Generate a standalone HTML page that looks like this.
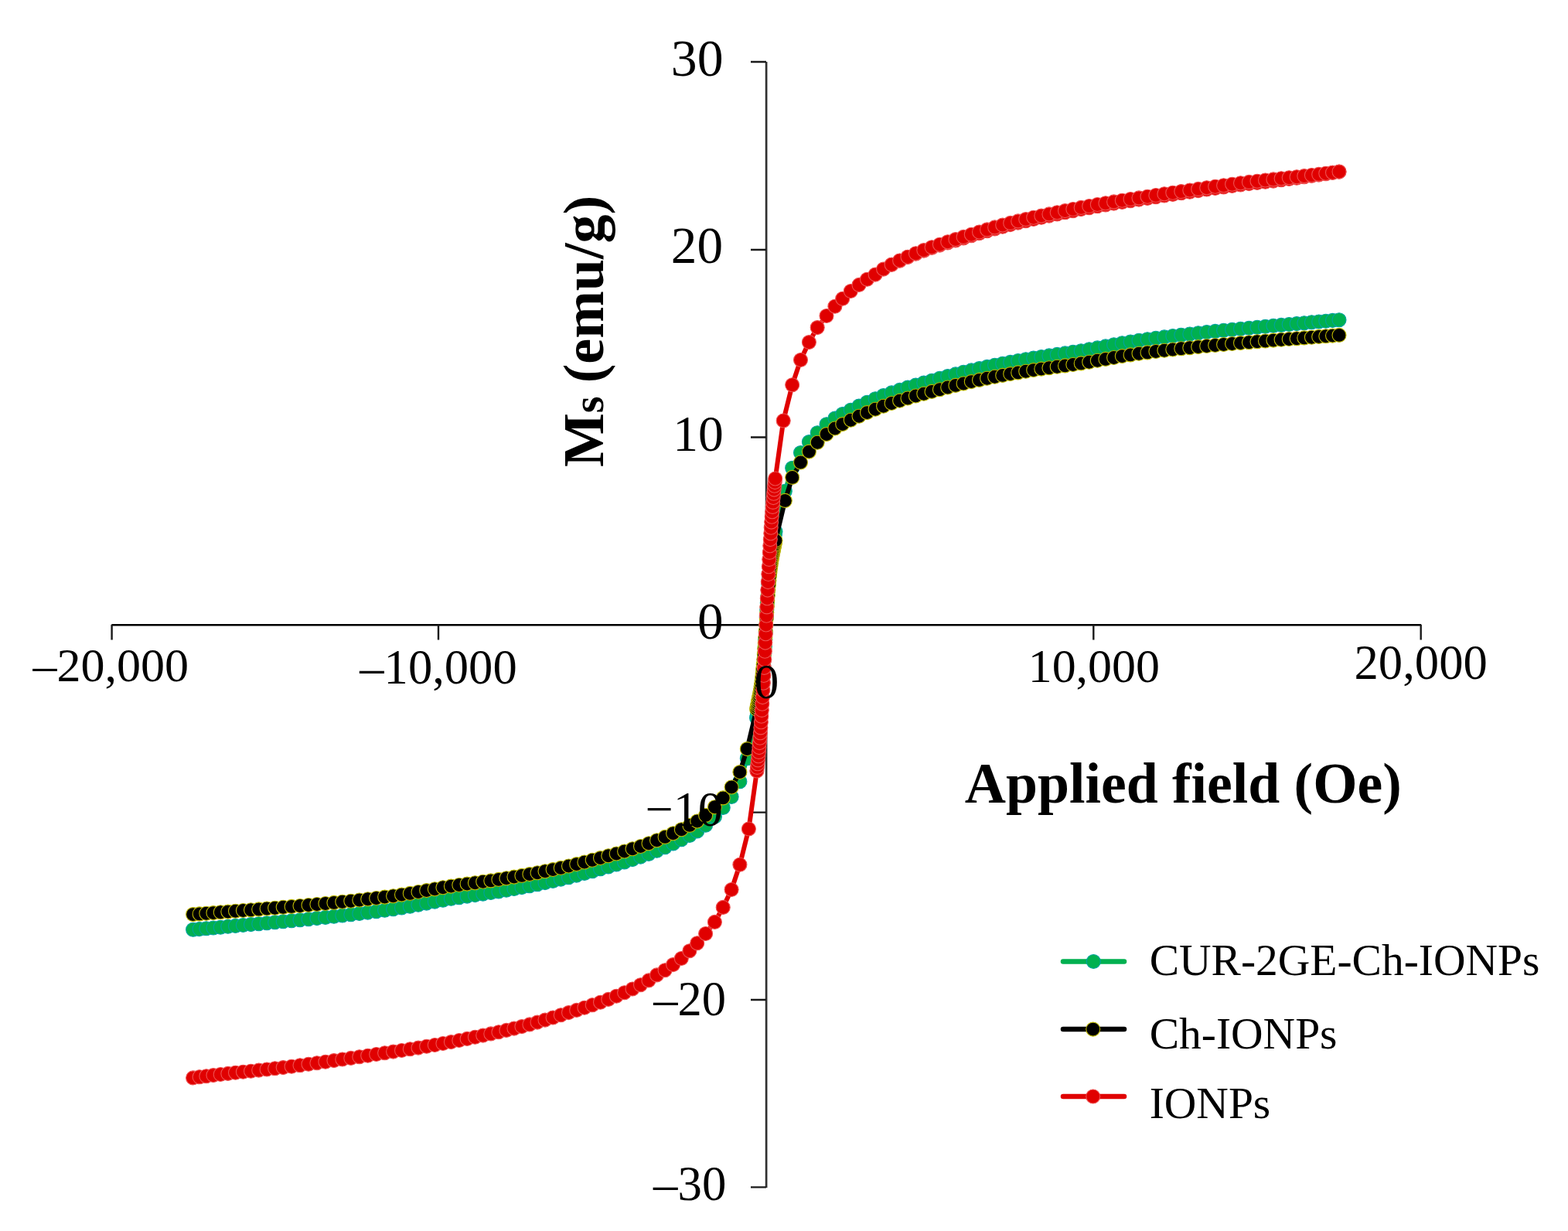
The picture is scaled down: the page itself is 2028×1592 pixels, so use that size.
<!DOCTYPE html>
<html><head><meta charset="utf-8"><title>Magnetization curves</title>
<style>html,body{margin:0;padding:0;background:#fff;overflow:hidden}svg{display:block}text{font-family:"Liberation Serif","Times New Roman",serif;fill:#000}</style>
</head><body>
<svg width="2028" height="1592" viewBox="0 0 2028 1592">
<rect width="2028" height="1592" fill="#fff"/>
<g fill="none" stroke-linecap="butt">
<path d="M144.3 808.2 H1838.2" stroke="#000" stroke-width="2.6"/>
<path d="M144.6 808 V827.5 M567 808 V827.5 M1414.3 808 V827.5 M1837.7 808 V827.5" stroke="#1a1a1a" stroke-width="2.4"/>
<path d="M991.1 80 V1536" stroke="#303030" stroke-width="2.7"/>
<path d="M971 80 H991 M971 323 H991 M971 565.5 H991 M971 1050.7 H991 M971 1293 H991 M971 1535.3 H991" stroke="#1a1a1a" stroke-width="2.3"/>
</g>
<text transform="translate(780,604) rotate(-90)" font-size="74" font-weight="bold">M<tspan font-size="56">s</tspan><tspan dx="-1.5"> (emu/g)</tspan></text>
<text x="1247.8" y="1037.9" font-size="73.7" font-weight="bold">Applied field (Oe)</text>
<path d="M249.6 1202.3 L258.1 1201.6 L266.8 1200.8 L275.9 1200.0 L285.2 1199.2 L294.8 1198.3 L304.5 1197.4 L314.4 1196.5 L324.5 1195.6 L334.7 1194.7 L345.1 1193.8 L355.6 1192.8 L366.2 1191.8 L377.1 1190.8 L388.0 1189.8 L399.0 1188.7 L409.9 1187.6 L420.9 1186.4 L431.9 1185.2 L442.8 1184.0 L453.8 1182.8 L464.8 1181.5 L475.7 1180.1 L486.7 1178.7 L497.6 1177.3 L508.6 1175.7 L519.5 1174.0 L530.3 1172.2 L541.0 1170.2 L551.7 1168.1 L562.3 1166.1 L572.9 1164.2 L583.4 1162.3 L593.8 1160.7 L604.1 1159.1 L614.4 1157.6 L624.7 1156.1 L634.8 1154.5 L644.9 1152.9 L654.9 1151.2 L664.9 1149.5 L674.9 1147.6 L684.9 1145.7 L695.0 1143.7 L705.0 1141.6 L715.1 1139.4 L725.3 1137.1 L735.5 1134.7 L745.7 1132.1 L755.9 1129.4 L766.2 1126.7 L776.5 1123.8 L786.8 1120.9 L797.2 1117.9 L807.6 1114.9 L818.0 1111.6 L828.5 1108.1 L839.0 1104.4 L849.5 1100.3 L860.1 1095.8 L870.6 1090.9 L881.3 1085.8 L891.9 1080.4 L901.7 1074.9 L912.6 1067.2 L924.4 1056.3 L935.2 1044.4 L946.1 1030.4 L956.9 1010.8 L966.3 980.7 L978.6 928.5 L979.1 926.0 L979.6 923.5 L980.1 921.0 L980.6 918.5 L981.1 916.0 L981.6 913.3 L982.2 910.6 L982.7 907.7 L983.2 904.6 L983.7 901.3 L984.2 897.8 L984.7 894.0 L985.2 889.9 L985.7 885.3 L986.2 880.1 L986.7 874.2 L987.2 867.7 L987.8 860.7 L988.3 853.1 L988.8 844.9 L989.3 836.3 L989.8 827.2 L990.3 817.8 L990.8 808.0 L991.3 798.2 L991.8 788.8 L992.3 779.7 L992.8 771.1 L993.3 762.9 L993.8 755.3 L994.4 748.3 L994.9 741.8 L995.4 735.9 L995.9 730.7 L996.4 726.1 L996.9 722.0 L997.4 718.2 L997.9 714.7 L998.4 711.4 L998.9 708.3 L999.4 705.4 L1000.0 702.7 L1000.5 700.0 L1001.0 697.5 L1001.5 695.0 L1002.0 692.5 L1002.5 690.0 L1003.0 687.5 L1015.3 635.3 L1024.7 605.2 L1035.5 585.6 L1046.4 571.6 L1057.2 559.7 L1069.0 548.8 L1079.9 541.1 L1089.7 535.6 L1100.3 530.2 L1111.0 525.1 L1121.5 520.2 L1132.1 515.7 L1142.6 511.6 L1153.1 507.9 L1163.6 504.4 L1174.0 501.1 L1184.4 498.1 L1194.8 495.1 L1205.1 492.2 L1215.4 489.3 L1225.7 486.6 L1235.9 483.9 L1246.1 481.3 L1256.3 478.9 L1266.5 476.6 L1276.6 474.4 L1286.6 472.3 L1296.7 470.3 L1306.7 468.4 L1316.7 466.5 L1326.7 464.8 L1336.7 463.1 L1346.8 461.5 L1356.9 459.9 L1367.2 458.4 L1377.5 456.9 L1387.8 455.3 L1398.2 453.7 L1408.7 451.8 L1419.3 449.9 L1429.9 447.9 L1440.6 445.8 L1451.3 443.8 L1462.1 442.0 L1473.0 440.3 L1484.0 438.7 L1494.9 437.3 L1505.9 435.9 L1516.8 434.5 L1527.8 433.2 L1538.8 432.0 L1549.7 430.8 L1560.7 429.6 L1571.7 428.4 L1582.6 427.3 L1593.6 426.2 L1604.5 425.2 L1615.4 424.2 L1626.0 423.2 L1636.5 422.2 L1646.9 421.3 L1657.1 420.4 L1667.2 419.5 L1677.1 418.6 L1686.8 417.7 L1696.4 416.8 L1705.7 416.0 L1714.8 415.2 L1723.5 414.4 L1732.0 413.7" fill="none" stroke="#00b050" stroke-width="6" stroke-linejoin="round"/>
<g fill="#00b050" stroke="#00a3a0" stroke-width="1.1">
<circle cx="249.6" cy="1202.3" r="9.0"/>
<circle cx="258.1" cy="1201.6" r="9.0"/>
<circle cx="266.8" cy="1200.8" r="9.0"/>
<circle cx="275.9" cy="1200.0" r="9.0"/>
<circle cx="285.2" cy="1199.2" r="9.0"/>
<circle cx="294.8" cy="1198.3" r="9.0"/>
<circle cx="304.5" cy="1197.4" r="9.0"/>
<circle cx="314.4" cy="1196.5" r="9.0"/>
<circle cx="324.5" cy="1195.6" r="9.0"/>
<circle cx="334.7" cy="1194.7" r="9.0"/>
<circle cx="345.1" cy="1193.8" r="9.0"/>
<circle cx="355.6" cy="1192.8" r="9.0"/>
<circle cx="366.2" cy="1191.8" r="9.0"/>
<circle cx="377.1" cy="1190.8" r="9.0"/>
<circle cx="388.0" cy="1189.8" r="9.0"/>
<circle cx="399.0" cy="1188.7" r="9.0"/>
<circle cx="409.9" cy="1187.6" r="9.0"/>
<circle cx="420.9" cy="1186.4" r="9.0"/>
<circle cx="431.9" cy="1185.2" r="9.0"/>
<circle cx="442.8" cy="1184.0" r="9.0"/>
<circle cx="453.8" cy="1182.8" r="9.0"/>
<circle cx="464.8" cy="1181.5" r="9.0"/>
<circle cx="475.7" cy="1180.1" r="9.0"/>
<circle cx="486.7" cy="1178.7" r="9.0"/>
<circle cx="497.6" cy="1177.3" r="9.0"/>
<circle cx="508.6" cy="1175.7" r="9.0"/>
<circle cx="519.5" cy="1174.0" r="9.0"/>
<circle cx="530.3" cy="1172.2" r="9.0"/>
<circle cx="541.0" cy="1170.2" r="9.0"/>
<circle cx="551.7" cy="1168.1" r="9.0"/>
<circle cx="562.3" cy="1166.1" r="9.0"/>
<circle cx="572.9" cy="1164.2" r="9.0"/>
<circle cx="583.4" cy="1162.3" r="9.0"/>
<circle cx="593.8" cy="1160.7" r="9.0"/>
<circle cx="604.1" cy="1159.1" r="9.0"/>
<circle cx="614.4" cy="1157.6" r="9.0"/>
<circle cx="624.7" cy="1156.1" r="9.0"/>
<circle cx="634.8" cy="1154.5" r="9.0"/>
<circle cx="644.9" cy="1152.9" r="9.0"/>
<circle cx="654.9" cy="1151.2" r="9.0"/>
<circle cx="664.9" cy="1149.5" r="9.0"/>
<circle cx="674.9" cy="1147.6" r="9.0"/>
<circle cx="684.9" cy="1145.7" r="9.0"/>
<circle cx="695.0" cy="1143.7" r="9.0"/>
<circle cx="705.0" cy="1141.6" r="9.0"/>
<circle cx="715.1" cy="1139.4" r="9.0"/>
<circle cx="725.3" cy="1137.1" r="9.0"/>
<circle cx="735.5" cy="1134.7" r="9.0"/>
<circle cx="745.7" cy="1132.1" r="9.0"/>
<circle cx="755.9" cy="1129.4" r="9.0"/>
<circle cx="766.2" cy="1126.7" r="9.0"/>
<circle cx="776.5" cy="1123.8" r="9.0"/>
<circle cx="786.8" cy="1120.9" r="9.0"/>
<circle cx="797.2" cy="1117.9" r="9.0"/>
<circle cx="807.6" cy="1114.9" r="9.0"/>
<circle cx="818.0" cy="1111.6" r="9.0"/>
<circle cx="828.5" cy="1108.1" r="9.0"/>
<circle cx="839.0" cy="1104.4" r="9.0"/>
<circle cx="849.5" cy="1100.3" r="9.0"/>
<circle cx="860.1" cy="1095.8" r="9.0"/>
<circle cx="870.6" cy="1090.9" r="9.0"/>
<circle cx="881.3" cy="1085.8" r="9.0"/>
<circle cx="891.9" cy="1080.4" r="9.0"/>
<circle cx="901.7" cy="1074.9" r="9.0"/>
<circle cx="912.6" cy="1067.2" r="9.0"/>
<circle cx="924.4" cy="1056.3" r="9.0"/>
<circle cx="935.2" cy="1044.4" r="9.0"/>
<circle cx="946.1" cy="1030.4" r="9.0"/>
<circle cx="956.9" cy="1010.8" r="9.0"/>
<circle cx="966.3" cy="980.7" r="9.0"/>
<circle cx="978.6" cy="928.5" r="9.0"/>
<circle cx="979.1" cy="926.0" r="9.0"/>
<circle cx="979.6" cy="923.5" r="9.0"/>
<circle cx="980.1" cy="921.0" r="9.0"/>
<circle cx="980.6" cy="918.5" r="9.0"/>
<circle cx="981.1" cy="916.0" r="9.0"/>
<circle cx="981.6" cy="913.3" r="9.0"/>
<circle cx="982.2" cy="910.6" r="9.0"/>
<circle cx="982.7" cy="907.7" r="9.0"/>
<circle cx="983.2" cy="904.6" r="9.0"/>
<circle cx="983.7" cy="901.3" r="9.0"/>
<circle cx="984.2" cy="897.8" r="9.0"/>
<circle cx="984.7" cy="894.0" r="9.0"/>
<circle cx="985.2" cy="889.9" r="9.0"/>
<circle cx="985.7" cy="885.3" r="9.0"/>
<circle cx="986.2" cy="880.1" r="9.0"/>
<circle cx="986.7" cy="874.2" r="9.0"/>
<circle cx="987.2" cy="867.7" r="9.0"/>
<circle cx="987.8" cy="860.7" r="9.0"/>
<circle cx="988.3" cy="853.1" r="9.0"/>
<circle cx="988.8" cy="844.9" r="9.0"/>
<circle cx="989.3" cy="836.3" r="9.0"/>
<circle cx="989.8" cy="827.2" r="9.0"/>
<circle cx="990.3" cy="817.8" r="9.0"/>
<circle cx="990.8" cy="808.0" r="9.0"/>
<circle cx="991.3" cy="798.2" r="9.0"/>
<circle cx="991.8" cy="788.8" r="9.0"/>
<circle cx="992.3" cy="779.7" r="9.0"/>
<circle cx="992.8" cy="771.1" r="9.0"/>
<circle cx="993.3" cy="762.9" r="9.0"/>
<circle cx="993.8" cy="755.3" r="9.0"/>
<circle cx="994.4" cy="748.3" r="9.0"/>
<circle cx="994.9" cy="741.8" r="9.0"/>
<circle cx="995.4" cy="735.9" r="9.0"/>
<circle cx="995.9" cy="730.7" r="9.0"/>
<circle cx="996.4" cy="726.1" r="9.0"/>
<circle cx="996.9" cy="722.0" r="9.0"/>
<circle cx="997.4" cy="718.2" r="9.0"/>
<circle cx="997.9" cy="714.7" r="9.0"/>
<circle cx="998.4" cy="711.4" r="9.0"/>
<circle cx="998.9" cy="708.3" r="9.0"/>
<circle cx="999.4" cy="705.4" r="9.0"/>
<circle cx="1000.0" cy="702.7" r="9.0"/>
<circle cx="1000.5" cy="700.0" r="9.0"/>
<circle cx="1001.0" cy="697.5" r="9.0"/>
<circle cx="1001.5" cy="695.0" r="9.0"/>
<circle cx="1002.0" cy="692.5" r="9.0"/>
<circle cx="1002.5" cy="690.0" r="9.0"/>
<circle cx="1003.0" cy="687.5" r="9.0"/>
<circle cx="1015.3" cy="635.3" r="9.0"/>
<circle cx="1024.7" cy="605.2" r="9.0"/>
<circle cx="1035.5" cy="585.6" r="9.0"/>
<circle cx="1046.4" cy="571.6" r="9.0"/>
<circle cx="1057.2" cy="559.7" r="9.0"/>
<circle cx="1069.0" cy="548.8" r="9.0"/>
<circle cx="1079.9" cy="541.1" r="9.0"/>
<circle cx="1089.7" cy="535.6" r="9.0"/>
<circle cx="1100.3" cy="530.2" r="9.0"/>
<circle cx="1111.0" cy="525.1" r="9.0"/>
<circle cx="1121.5" cy="520.2" r="9.0"/>
<circle cx="1132.1" cy="515.7" r="9.0"/>
<circle cx="1142.6" cy="511.6" r="9.0"/>
<circle cx="1153.1" cy="507.9" r="9.0"/>
<circle cx="1163.6" cy="504.4" r="9.0"/>
<circle cx="1174.0" cy="501.1" r="9.0"/>
<circle cx="1184.4" cy="498.1" r="9.0"/>
<circle cx="1194.8" cy="495.1" r="9.0"/>
<circle cx="1205.1" cy="492.2" r="9.0"/>
<circle cx="1215.4" cy="489.3" r="9.0"/>
<circle cx="1225.7" cy="486.6" r="9.0"/>
<circle cx="1235.9" cy="483.9" r="9.0"/>
<circle cx="1246.1" cy="481.3" r="9.0"/>
<circle cx="1256.3" cy="478.9" r="9.0"/>
<circle cx="1266.5" cy="476.6" r="9.0"/>
<circle cx="1276.6" cy="474.4" r="9.0"/>
<circle cx="1286.6" cy="472.3" r="9.0"/>
<circle cx="1296.7" cy="470.3" r="9.0"/>
<circle cx="1306.7" cy="468.4" r="9.0"/>
<circle cx="1316.7" cy="466.5" r="9.0"/>
<circle cx="1326.7" cy="464.8" r="9.0"/>
<circle cx="1336.7" cy="463.1" r="9.0"/>
<circle cx="1346.8" cy="461.5" r="9.0"/>
<circle cx="1356.9" cy="459.9" r="9.0"/>
<circle cx="1367.2" cy="458.4" r="9.0"/>
<circle cx="1377.5" cy="456.9" r="9.0"/>
<circle cx="1387.8" cy="455.3" r="9.0"/>
<circle cx="1398.2" cy="453.7" r="9.0"/>
<circle cx="1408.7" cy="451.8" r="9.0"/>
<circle cx="1419.3" cy="449.9" r="9.0"/>
<circle cx="1429.9" cy="447.9" r="9.0"/>
<circle cx="1440.6" cy="445.8" r="9.0"/>
<circle cx="1451.3" cy="443.8" r="9.0"/>
<circle cx="1462.1" cy="442.0" r="9.0"/>
<circle cx="1473.0" cy="440.3" r="9.0"/>
<circle cx="1484.0" cy="438.7" r="9.0"/>
<circle cx="1494.9" cy="437.3" r="9.0"/>
<circle cx="1505.9" cy="435.9" r="9.0"/>
<circle cx="1516.8" cy="434.5" r="9.0"/>
<circle cx="1527.8" cy="433.2" r="9.0"/>
<circle cx="1538.8" cy="432.0" r="9.0"/>
<circle cx="1549.7" cy="430.8" r="9.0"/>
<circle cx="1560.7" cy="429.6" r="9.0"/>
<circle cx="1571.7" cy="428.4" r="9.0"/>
<circle cx="1582.6" cy="427.3" r="9.0"/>
<circle cx="1593.6" cy="426.2" r="9.0"/>
<circle cx="1604.5" cy="425.2" r="9.0"/>
<circle cx="1615.4" cy="424.2" r="9.0"/>
<circle cx="1626.0" cy="423.2" r="9.0"/>
<circle cx="1636.5" cy="422.2" r="9.0"/>
<circle cx="1646.9" cy="421.3" r="9.0"/>
<circle cx="1657.1" cy="420.4" r="9.0"/>
<circle cx="1667.2" cy="419.5" r="9.0"/>
<circle cx="1677.1" cy="418.6" r="9.0"/>
<circle cx="1686.8" cy="417.7" r="9.0"/>
<circle cx="1696.4" cy="416.8" r="9.0"/>
<circle cx="1705.7" cy="416.0" r="9.0"/>
<circle cx="1714.8" cy="415.2" r="9.0"/>
<circle cx="1723.5" cy="414.4" r="9.0"/>
<circle cx="1732.0" cy="413.7" r="9.0"/>
</g>
<path d="M249.6 1182.6 L258.1 1181.9 L266.8 1181.3 L275.9 1180.6 L285.2 1179.8 L294.8 1179.1 L304.5 1178.3 L314.4 1177.5 L324.5 1176.7 L334.7 1175.9 L345.1 1175.0 L355.6 1174.2 L366.2 1173.3 L377.1 1172.4 L388.0 1171.5 L399.0 1170.5 L409.9 1169.5 L420.9 1168.5 L431.9 1167.4 L442.8 1166.3 L453.8 1165.2 L464.8 1164.0 L475.7 1162.8 L486.7 1161.5 L497.6 1160.1 L508.6 1158.7 L519.5 1157.1 L530.3 1155.4 L541.0 1153.5 L551.7 1151.6 L562.3 1149.7 L572.9 1147.8 L583.4 1146.1 L593.8 1144.5 L604.1 1143.1 L614.4 1141.7 L624.7 1140.3 L634.8 1138.9 L644.9 1137.4 L654.9 1135.8 L664.9 1134.1 L674.9 1132.4 L684.9 1130.6 L695.0 1128.7 L705.0 1126.7 L715.1 1124.6 L725.3 1122.4 L735.5 1120.0 L745.7 1117.6 L755.9 1115.0 L766.2 1112.3 L776.5 1109.6 L786.8 1106.8 L797.2 1104.0 L807.6 1101.0 L818.0 1097.8 L828.5 1094.5 L839.0 1090.8 L849.5 1086.8 L860.1 1082.4 L870.6 1077.7 L881.3 1072.7 L891.9 1067.4 L901.7 1062.0 L912.6 1054.4 L924.4 1043.7 L935.2 1031.9 L946.1 1018.0 L956.9 998.6 L966.3 968.6 L978.6 917.0 L979.1 914.6 L979.6 912.1 L980.1 909.7 L980.6 907.3 L981.1 904.8 L981.6 902.3 L982.2 899.6 L982.7 896.8 L983.2 893.9 L983.7 890.8 L984.2 887.4 L984.7 883.8 L985.2 879.9 L985.7 875.6 L986.2 870.7 L986.7 865.3 L987.2 859.4 L987.8 853.1 L988.3 846.3 L988.8 839.2 L989.3 831.8 L989.8 824.1 L990.3 816.1 L990.8 808.0 L991.3 799.9 L991.8 791.9 L992.3 784.2 L992.8 776.8 L993.3 769.7 L993.8 762.9 L994.4 756.6 L994.9 750.7 L995.4 745.3 L995.9 740.4 L996.4 736.1 L996.9 732.2 L997.4 728.6 L997.9 725.2 L998.4 722.1 L998.9 719.2 L999.4 716.4 L1000.0 713.7 L1000.5 711.2 L1001.0 708.7 L1001.5 706.3 L1002.0 703.9 L1002.5 701.4 L1003.0 699.0 L1015.3 647.4 L1024.7 617.4 L1035.5 598.0 L1046.4 584.1 L1057.2 572.3 L1069.0 561.6 L1079.9 554.0 L1089.7 548.6 L1100.3 543.3 L1111.0 538.3 L1121.5 533.6 L1132.1 529.2 L1142.6 525.2 L1153.1 521.5 L1163.6 518.2 L1174.0 515.0 L1184.4 512.0 L1194.8 509.2 L1205.1 506.4 L1215.4 503.7 L1225.7 501.0 L1235.9 498.4 L1246.1 496.0 L1256.3 493.6 L1266.5 491.4 L1276.6 489.3 L1286.6 487.3 L1296.7 485.4 L1306.7 483.6 L1316.7 481.9 L1326.7 480.2 L1336.7 478.6 L1346.8 477.1 L1356.9 475.7 L1367.2 474.3 L1377.5 472.9 L1387.8 471.5 L1398.2 469.9 L1408.7 468.2 L1419.3 466.3 L1429.9 464.4 L1440.6 462.5 L1451.3 460.6 L1462.1 458.9 L1473.0 457.3 L1484.0 455.9 L1494.9 454.5 L1505.9 453.2 L1516.8 452.0 L1527.8 450.8 L1538.8 449.7 L1549.7 448.6 L1560.7 447.5 L1571.7 446.5 L1582.6 445.5 L1593.6 444.5 L1604.5 443.6 L1615.4 442.7 L1626.0 441.8 L1636.5 441.0 L1646.9 440.1 L1657.1 439.3 L1667.2 438.5 L1677.1 437.7 L1686.8 436.9 L1696.4 436.2 L1705.7 435.4 L1714.8 434.7 L1723.5 434.1 L1732.0 433.4" fill="none" stroke="#000" stroke-width="6" stroke-linejoin="round"/>
<g fill="#000" stroke="#bdb800" stroke-width="1.1">
<circle cx="249.6" cy="1182.6" r="9.0"/>
<circle cx="258.1" cy="1181.9" r="9.0"/>
<circle cx="266.8" cy="1181.3" r="9.0"/>
<circle cx="275.9" cy="1180.6" r="9.0"/>
<circle cx="285.2" cy="1179.8" r="9.0"/>
<circle cx="294.8" cy="1179.1" r="9.0"/>
<circle cx="304.5" cy="1178.3" r="9.0"/>
<circle cx="314.4" cy="1177.5" r="9.0"/>
<circle cx="324.5" cy="1176.7" r="9.0"/>
<circle cx="334.7" cy="1175.9" r="9.0"/>
<circle cx="345.1" cy="1175.0" r="9.0"/>
<circle cx="355.6" cy="1174.2" r="9.0"/>
<circle cx="366.2" cy="1173.3" r="9.0"/>
<circle cx="377.1" cy="1172.4" r="9.0"/>
<circle cx="388.0" cy="1171.5" r="9.0"/>
<circle cx="399.0" cy="1170.5" r="9.0"/>
<circle cx="409.9" cy="1169.5" r="9.0"/>
<circle cx="420.9" cy="1168.5" r="9.0"/>
<circle cx="431.9" cy="1167.4" r="9.0"/>
<circle cx="442.8" cy="1166.3" r="9.0"/>
<circle cx="453.8" cy="1165.2" r="9.0"/>
<circle cx="464.8" cy="1164.0" r="9.0"/>
<circle cx="475.7" cy="1162.8" r="9.0"/>
<circle cx="486.7" cy="1161.5" r="9.0"/>
<circle cx="497.6" cy="1160.1" r="9.0"/>
<circle cx="508.6" cy="1158.7" r="9.0"/>
<circle cx="519.5" cy="1157.1" r="9.0"/>
<circle cx="530.3" cy="1155.4" r="9.0"/>
<circle cx="541.0" cy="1153.5" r="9.0"/>
<circle cx="551.7" cy="1151.6" r="9.0"/>
<circle cx="562.3" cy="1149.7" r="9.0"/>
<circle cx="572.9" cy="1147.8" r="9.0"/>
<circle cx="583.4" cy="1146.1" r="9.0"/>
<circle cx="593.8" cy="1144.5" r="9.0"/>
<circle cx="604.1" cy="1143.1" r="9.0"/>
<circle cx="614.4" cy="1141.7" r="9.0"/>
<circle cx="624.7" cy="1140.3" r="9.0"/>
<circle cx="634.8" cy="1138.9" r="9.0"/>
<circle cx="644.9" cy="1137.4" r="9.0"/>
<circle cx="654.9" cy="1135.8" r="9.0"/>
<circle cx="664.9" cy="1134.1" r="9.0"/>
<circle cx="674.9" cy="1132.4" r="9.0"/>
<circle cx="684.9" cy="1130.6" r="9.0"/>
<circle cx="695.0" cy="1128.7" r="9.0"/>
<circle cx="705.0" cy="1126.7" r="9.0"/>
<circle cx="715.1" cy="1124.6" r="9.0"/>
<circle cx="725.3" cy="1122.4" r="9.0"/>
<circle cx="735.5" cy="1120.0" r="9.0"/>
<circle cx="745.7" cy="1117.6" r="9.0"/>
<circle cx="755.9" cy="1115.0" r="9.0"/>
<circle cx="766.2" cy="1112.3" r="9.0"/>
<circle cx="776.5" cy="1109.6" r="9.0"/>
<circle cx="786.8" cy="1106.8" r="9.0"/>
<circle cx="797.2" cy="1104.0" r="9.0"/>
<circle cx="807.6" cy="1101.0" r="9.0"/>
<circle cx="818.0" cy="1097.8" r="9.0"/>
<circle cx="828.5" cy="1094.5" r="9.0"/>
<circle cx="839.0" cy="1090.8" r="9.0"/>
<circle cx="849.5" cy="1086.8" r="9.0"/>
<circle cx="860.1" cy="1082.4" r="9.0"/>
<circle cx="870.6" cy="1077.7" r="9.0"/>
<circle cx="881.3" cy="1072.7" r="9.0"/>
<circle cx="891.9" cy="1067.4" r="9.0"/>
<circle cx="901.7" cy="1062.0" r="9.0"/>
<circle cx="912.6" cy="1054.4" r="9.0"/>
<circle cx="924.4" cy="1043.7" r="9.0"/>
<circle cx="935.2" cy="1031.9" r="9.0"/>
<circle cx="946.1" cy="1018.0" r="9.0"/>
<circle cx="956.9" cy="998.6" r="9.0"/>
<circle cx="966.3" cy="968.6" r="9.0"/>
<circle cx="978.6" cy="917.0" r="9.0"/>
<circle cx="979.1" cy="914.6" r="9.0"/>
<circle cx="979.6" cy="912.1" r="9.0"/>
<circle cx="980.1" cy="909.7" r="9.0"/>
<circle cx="980.6" cy="907.3" r="9.0"/>
<circle cx="981.1" cy="904.8" r="9.0"/>
<circle cx="981.6" cy="902.3" r="9.0"/>
<circle cx="982.2" cy="899.6" r="9.0"/>
<circle cx="982.7" cy="896.8" r="9.0"/>
<circle cx="983.2" cy="893.9" r="9.0"/>
<circle cx="983.7" cy="890.8" r="9.0"/>
<circle cx="984.2" cy="887.4" r="9.0"/>
<circle cx="984.7" cy="883.8" r="9.0"/>
<circle cx="985.2" cy="879.9" r="9.0"/>
<circle cx="985.7" cy="875.6" r="9.0"/>
<circle cx="986.2" cy="870.7" r="9.0"/>
<circle cx="986.7" cy="865.3" r="9.0"/>
<circle cx="987.2" cy="859.4" r="9.0"/>
<circle cx="987.8" cy="853.1" r="9.0"/>
<circle cx="988.3" cy="846.3" r="9.0"/>
<circle cx="988.8" cy="839.2" r="9.0"/>
<circle cx="989.3" cy="831.8" r="9.0"/>
<circle cx="989.8" cy="824.1" r="9.0"/>
<circle cx="990.3" cy="816.1" r="9.0"/>
<circle cx="990.8" cy="808.0" r="9.0"/>
<circle cx="991.3" cy="799.9" r="9.0"/>
<circle cx="991.8" cy="791.9" r="9.0"/>
<circle cx="992.3" cy="784.2" r="9.0"/>
<circle cx="992.8" cy="776.8" r="9.0"/>
<circle cx="993.3" cy="769.7" r="9.0"/>
<circle cx="993.8" cy="762.9" r="9.0"/>
<circle cx="994.4" cy="756.6" r="9.0"/>
<circle cx="994.9" cy="750.7" r="9.0"/>
<circle cx="995.4" cy="745.3" r="9.0"/>
<circle cx="995.9" cy="740.4" r="9.0"/>
<circle cx="996.4" cy="736.1" r="9.0"/>
<circle cx="996.9" cy="732.2" r="9.0"/>
<circle cx="997.4" cy="728.6" r="9.0"/>
<circle cx="997.9" cy="725.2" r="9.0"/>
<circle cx="998.4" cy="722.1" r="9.0"/>
<circle cx="998.9" cy="719.2" r="9.0"/>
<circle cx="999.4" cy="716.4" r="9.0"/>
<circle cx="1000.0" cy="713.7" r="9.0"/>
<circle cx="1000.5" cy="711.2" r="9.0"/>
<circle cx="1001.0" cy="708.7" r="9.0"/>
<circle cx="1001.5" cy="706.3" r="9.0"/>
<circle cx="1002.0" cy="703.9" r="9.0"/>
<circle cx="1002.5" cy="701.4" r="9.0"/>
<circle cx="1003.0" cy="699.0" r="9.0"/>
<circle cx="1015.3" cy="647.4" r="9.0"/>
<circle cx="1024.7" cy="617.4" r="9.0"/>
<circle cx="1035.5" cy="598.0" r="9.0"/>
<circle cx="1046.4" cy="584.1" r="9.0"/>
<circle cx="1057.2" cy="572.3" r="9.0"/>
<circle cx="1069.0" cy="561.6" r="9.0"/>
<circle cx="1079.9" cy="554.0" r="9.0"/>
<circle cx="1089.7" cy="548.6" r="9.0"/>
<circle cx="1100.3" cy="543.3" r="9.0"/>
<circle cx="1111.0" cy="538.3" r="9.0"/>
<circle cx="1121.5" cy="533.6" r="9.0"/>
<circle cx="1132.1" cy="529.2" r="9.0"/>
<circle cx="1142.6" cy="525.2" r="9.0"/>
<circle cx="1153.1" cy="521.5" r="9.0"/>
<circle cx="1163.6" cy="518.2" r="9.0"/>
<circle cx="1174.0" cy="515.0" r="9.0"/>
<circle cx="1184.4" cy="512.0" r="9.0"/>
<circle cx="1194.8" cy="509.2" r="9.0"/>
<circle cx="1205.1" cy="506.4" r="9.0"/>
<circle cx="1215.4" cy="503.7" r="9.0"/>
<circle cx="1225.7" cy="501.0" r="9.0"/>
<circle cx="1235.9" cy="498.4" r="9.0"/>
<circle cx="1246.1" cy="496.0" r="9.0"/>
<circle cx="1256.3" cy="493.6" r="9.0"/>
<circle cx="1266.5" cy="491.4" r="9.0"/>
<circle cx="1276.6" cy="489.3" r="9.0"/>
<circle cx="1286.6" cy="487.3" r="9.0"/>
<circle cx="1296.7" cy="485.4" r="9.0"/>
<circle cx="1306.7" cy="483.6" r="9.0"/>
<circle cx="1316.7" cy="481.9" r="9.0"/>
<circle cx="1326.7" cy="480.2" r="9.0"/>
<circle cx="1336.7" cy="478.6" r="9.0"/>
<circle cx="1346.8" cy="477.1" r="9.0"/>
<circle cx="1356.9" cy="475.7" r="9.0"/>
<circle cx="1367.2" cy="474.3" r="9.0"/>
<circle cx="1377.5" cy="472.9" r="9.0"/>
<circle cx="1387.8" cy="471.5" r="9.0"/>
<circle cx="1398.2" cy="469.9" r="9.0"/>
<circle cx="1408.7" cy="468.2" r="9.0"/>
<circle cx="1419.3" cy="466.3" r="9.0"/>
<circle cx="1429.9" cy="464.4" r="9.0"/>
<circle cx="1440.6" cy="462.5" r="9.0"/>
<circle cx="1451.3" cy="460.6" r="9.0"/>
<circle cx="1462.1" cy="458.9" r="9.0"/>
<circle cx="1473.0" cy="457.3" r="9.0"/>
<circle cx="1484.0" cy="455.9" r="9.0"/>
<circle cx="1494.9" cy="454.5" r="9.0"/>
<circle cx="1505.9" cy="453.2" r="9.0"/>
<circle cx="1516.8" cy="452.0" r="9.0"/>
<circle cx="1527.8" cy="450.8" r="9.0"/>
<circle cx="1538.8" cy="449.7" r="9.0"/>
<circle cx="1549.7" cy="448.6" r="9.0"/>
<circle cx="1560.7" cy="447.5" r="9.0"/>
<circle cx="1571.7" cy="446.5" r="9.0"/>
<circle cx="1582.6" cy="445.5" r="9.0"/>
<circle cx="1593.6" cy="444.5" r="9.0"/>
<circle cx="1604.5" cy="443.6" r="9.0"/>
<circle cx="1615.4" cy="442.7" r="9.0"/>
<circle cx="1626.0" cy="441.8" r="9.0"/>
<circle cx="1636.5" cy="441.0" r="9.0"/>
<circle cx="1646.9" cy="440.1" r="9.0"/>
<circle cx="1657.1" cy="439.3" r="9.0"/>
<circle cx="1667.2" cy="438.5" r="9.0"/>
<circle cx="1677.1" cy="437.7" r="9.0"/>
<circle cx="1686.8" cy="436.9" r="9.0"/>
<circle cx="1696.4" cy="436.2" r="9.0"/>
<circle cx="1705.7" cy="435.4" r="9.0"/>
<circle cx="1714.8" cy="434.7" r="9.0"/>
<circle cx="1723.5" cy="434.1" r="9.0"/>
<circle cx="1732.0" cy="433.4" r="9.0"/>
</g>
<g fill="#e00000" stroke="#ee5050" stroke-width="1.1">
<circle cx="1153.1" cy="342.3" r="9.0"/>
<circle cx="1163.6" cy="337.2" r="9.0"/>
<circle cx="1174.0" cy="332.6" r="9.0"/>
<circle cx="1184.4" cy="328.3" r="9.0"/>
<circle cx="1194.8" cy="324.3" r="9.0"/>
<circle cx="1205.1" cy="320.5" r="9.0"/>
<circle cx="1215.4" cy="317.1" r="9.0"/>
<circle cx="1225.7" cy="314.0" r="9.0"/>
<circle cx="1235.9" cy="310.9" r="9.0"/>
<circle cx="1246.1" cy="307.9" r="9.0"/>
<circle cx="1256.3" cy="304.8" r="9.0"/>
<circle cx="1266.5" cy="301.7" r="9.0"/>
<circle cx="1276.6" cy="298.8" r="9.0"/>
<circle cx="1286.6" cy="295.9" r="9.0"/>
<circle cx="1296.7" cy="293.2" r="9.0"/>
<circle cx="1306.7" cy="290.6" r="9.0"/>
<circle cx="1316.7" cy="288.1" r="9.0"/>
<circle cx="1326.7" cy="285.8" r="9.0"/>
<circle cx="1336.7" cy="283.5" r="9.0"/>
<circle cx="1346.8" cy="281.3" r="9.0"/>
<circle cx="1356.9" cy="279.1" r="9.0"/>
<circle cx="1367.2" cy="276.9" r="9.0"/>
<circle cx="1377.5" cy="274.8" r="9.0"/>
<circle cx="1387.8" cy="272.7" r="9.0"/>
<circle cx="1398.2" cy="270.6" r="9.0"/>
<circle cx="1408.7" cy="268.7" r="9.0"/>
<circle cx="1419.3" cy="266.7" r="9.0"/>
<circle cx="1429.9" cy="264.9" r="9.0"/>
<circle cx="1440.6" cy="263.1" r="9.0"/>
<circle cx="1451.3" cy="261.4" r="9.0"/>
<circle cx="1462.1" cy="259.7" r="9.0"/>
<circle cx="1473.0" cy="258.1" r="9.0"/>
<circle cx="1484.0" cy="256.4" r="9.0"/>
<circle cx="1494.9" cy="254.7" r="9.0"/>
<circle cx="1505.9" cy="253.0" r="9.0"/>
<circle cx="1516.8" cy="251.4" r="9.0"/>
<circle cx="1527.8" cy="249.8" r="9.0"/>
<circle cx="1538.8" cy="248.2" r="9.0"/>
<circle cx="1549.7" cy="246.6" r="9.0"/>
<circle cx="1560.7" cy="245.0" r="9.0"/>
<circle cx="1571.7" cy="243.5" r="9.0"/>
<circle cx="1582.6" cy="241.9" r="9.0"/>
<circle cx="1593.6" cy="240.4" r="9.0"/>
<circle cx="1604.5" cy="239.0" r="9.0"/>
<circle cx="1615.4" cy="237.6" r="9.0"/>
<circle cx="1626.0" cy="236.4" r="9.0"/>
<circle cx="1636.5" cy="235.2" r="9.0"/>
<circle cx="1646.9" cy="234.1" r="9.0"/>
<circle cx="1657.1" cy="232.8" r="9.0"/>
<circle cx="1667.2" cy="231.5" r="9.0"/>
<circle cx="1677.1" cy="230.2" r="9.0"/>
<circle cx="1686.8" cy="228.8" r="9.0"/>
<circle cx="1696.4" cy="227.4" r="9.0"/>
<circle cx="1705.7" cy="226.1" r="9.0"/>
<circle cx="1714.8" cy="224.7" r="9.0"/>
<circle cx="1723.5" cy="223.4" r="9.0"/>
<circle cx="1732.0" cy="222.1" r="9.0"/>
</g>
<path d="M249.6 1393.9 L258.1 1392.8 L266.8 1391.7 L275.9 1390.6 L285.2 1389.5 L294.8 1388.4 L304.5 1387.3 L314.4 1386.2 L324.5 1385.2 L334.7 1384.1 L345.1 1383.0 L355.6 1381.8 L366.2 1380.6 L377.1 1379.2 L388.0 1377.8 L399.0 1376.3 L409.9 1374.7 L420.9 1373.2 L431.9 1371.6 L442.8 1370.0 L453.8 1368.4 L464.8 1366.8 L475.7 1365.2 L486.7 1363.5 L497.6 1361.8 L508.6 1360.1 L519.5 1358.5 L530.3 1356.8 L541.0 1355.1 L551.7 1353.3 L562.3 1351.5 L572.9 1349.5 L583.4 1347.6 L593.8 1345.5 L604.1 1343.4 L614.4 1341.3 L624.7 1339.1 L634.8 1336.9 L644.9 1334.7 L654.9 1332.4 L664.9 1330.1 L674.9 1327.6 L684.9 1324.9 L695.0 1322.1 L705.0 1319.1 L715.1 1316.0 L725.3 1312.8 L735.5 1309.6 L745.7 1306.4 L755.9 1303.2 L766.2 1299.8 L776.5 1296.3 L786.8 1292.4 L797.2 1288.2 L807.6 1283.8 L818.0 1279.0 L828.5 1273.7 L839.0 1267.9 L849.5 1260.9 L860.1 1254.7 L870.6 1247.6 L881.3 1239.5 L891.9 1229.7 L901.7 1219.8 L912.6 1207.5 L924.4 1192.4 L935.2 1173.4 L946.1 1150.5 L956.9 1118.2 L968.4 1072.0 L978.9 997.0 L979.4 992.4 L979.9 987.8 L980.4 982.9 L980.9 977.8 L981.4 972.4 L981.9 966.6 L982.4 960.6 L982.9 954.3 L983.4 947.8 L983.9 940.9 L984.4 933.8 L984.8 926.3 L985.3 918.4 L985.8 910.2 L986.3 901.6 L986.8 892.6 L987.3 883.2 L987.8 873.5 L988.3 863.4 L988.8 852.9 L989.3 842.2 L989.8 831.1 L990.3 819.7 L990.8 808.0 L991.3 796.3 L991.8 784.9 L992.3 773.8 L992.8 763.1 L993.3 752.6 L993.8 742.5 L994.3 732.8 L994.8 723.4 L995.3 714.4 L995.8 705.8 L996.3 697.6 L996.8 689.7 L997.2 682.2 L997.7 675.1 L998.2 668.2 L998.7 661.7 L999.2 655.4 L999.7 649.4 L1000.2 643.6 L1000.7 638.2 L1001.2 633.1 L1001.7 628.2 L1002.2 623.6 L1002.7 619.0 L1013.2 544.0 L1024.7 497.8 L1035.5 465.5 L1046.4 442.6 L1057.2 423.6 L1069.0 408.5 L1079.9 396.2 L1089.7 386.3 L1100.3 376.5 L1111.0 368.4 L1121.5 361.3 L1132.1 355.1 L1142.6 348.1 L1153.1 342.3 L1163.6 337.0 L1174.0 332.2 L1184.4 327.8 L1194.8 323.6 L1205.1 319.7 L1215.4 316.2 L1225.7 312.8 L1235.9 309.6 L1246.1 306.4 L1256.3 303.2 L1266.5 300.0 L1276.6 296.9 L1286.6 293.9 L1296.7 291.1 L1306.7 288.4 L1316.7 285.9 L1326.7 283.6 L1336.7 281.3 L1346.8 279.1 L1356.9 276.9 L1367.2 274.7 L1377.5 272.6 L1387.8 270.5 L1398.2 268.4 L1408.7 266.5 L1419.3 264.5 L1429.9 262.7 L1440.6 260.9 L1451.3 259.2 L1462.1 257.5 L1473.0 255.9 L1484.0 254.2 L1494.9 252.5 L1505.9 250.8 L1516.8 249.2 L1527.8 247.6 L1538.8 246.0 L1549.7 244.4 L1560.7 242.8 L1571.7 241.3 L1582.6 239.7 L1593.6 238.2 L1604.5 236.8 L1615.4 235.4 L1626.0 234.2 L1636.5 233.0 L1646.9 231.9 L1657.1 230.8 L1667.2 229.8 L1677.1 228.7 L1686.8 227.6 L1696.4 226.5 L1705.7 225.4 L1714.8 224.3 L1723.5 223.2 L1732.0 222.1" fill="none" stroke="#e00000" stroke-width="6" stroke-linejoin="round"/>
<g fill="#e00000" stroke="#ee5050" stroke-width="1.1">
<circle cx="249.6" cy="1393.9" r="9.0"/>
<circle cx="258.1" cy="1392.8" r="9.0"/>
<circle cx="266.8" cy="1391.7" r="9.0"/>
<circle cx="275.9" cy="1390.6" r="9.0"/>
<circle cx="285.2" cy="1389.5" r="9.0"/>
<circle cx="294.8" cy="1388.4" r="9.0"/>
<circle cx="304.5" cy="1387.3" r="9.0"/>
<circle cx="314.4" cy="1386.2" r="9.0"/>
<circle cx="324.5" cy="1385.2" r="9.0"/>
<circle cx="334.7" cy="1384.1" r="9.0"/>
<circle cx="345.1" cy="1383.0" r="9.0"/>
<circle cx="355.6" cy="1381.8" r="9.0"/>
<circle cx="366.2" cy="1380.6" r="9.0"/>
<circle cx="377.1" cy="1379.2" r="9.0"/>
<circle cx="388.0" cy="1377.8" r="9.0"/>
<circle cx="399.0" cy="1376.3" r="9.0"/>
<circle cx="409.9" cy="1374.7" r="9.0"/>
<circle cx="420.9" cy="1373.2" r="9.0"/>
<circle cx="431.9" cy="1371.6" r="9.0"/>
<circle cx="442.8" cy="1370.0" r="9.0"/>
<circle cx="453.8" cy="1368.4" r="9.0"/>
<circle cx="464.8" cy="1366.8" r="9.0"/>
<circle cx="475.7" cy="1365.2" r="9.0"/>
<circle cx="486.7" cy="1363.5" r="9.0"/>
<circle cx="497.6" cy="1361.8" r="9.0"/>
<circle cx="508.6" cy="1360.1" r="9.0"/>
<circle cx="519.5" cy="1358.5" r="9.0"/>
<circle cx="530.3" cy="1356.8" r="9.0"/>
<circle cx="541.0" cy="1355.1" r="9.0"/>
<circle cx="551.7" cy="1353.3" r="9.0"/>
<circle cx="562.3" cy="1351.5" r="9.0"/>
<circle cx="572.9" cy="1349.5" r="9.0"/>
<circle cx="583.4" cy="1347.6" r="9.0"/>
<circle cx="593.8" cy="1345.5" r="9.0"/>
<circle cx="604.1" cy="1343.4" r="9.0"/>
<circle cx="614.4" cy="1341.3" r="9.0"/>
<circle cx="624.7" cy="1339.1" r="9.0"/>
<circle cx="634.8" cy="1336.9" r="9.0"/>
<circle cx="644.9" cy="1334.7" r="9.0"/>
<circle cx="654.9" cy="1332.4" r="9.0"/>
<circle cx="664.9" cy="1330.1" r="9.0"/>
<circle cx="674.9" cy="1327.6" r="9.0"/>
<circle cx="684.9" cy="1324.9" r="9.0"/>
<circle cx="695.0" cy="1322.1" r="9.0"/>
<circle cx="705.0" cy="1319.1" r="9.0"/>
<circle cx="715.1" cy="1316.0" r="9.0"/>
<circle cx="725.3" cy="1312.8" r="9.0"/>
<circle cx="735.5" cy="1309.6" r="9.0"/>
<circle cx="745.7" cy="1306.4" r="9.0"/>
<circle cx="755.9" cy="1303.2" r="9.0"/>
<circle cx="766.2" cy="1299.8" r="9.0"/>
<circle cx="776.5" cy="1296.3" r="9.0"/>
<circle cx="786.8" cy="1292.4" r="9.0"/>
<circle cx="797.2" cy="1288.2" r="9.0"/>
<circle cx="807.6" cy="1283.8" r="9.0"/>
<circle cx="818.0" cy="1279.0" r="9.0"/>
<circle cx="828.5" cy="1273.7" r="9.0"/>
<circle cx="839.0" cy="1267.9" r="9.0"/>
<circle cx="849.5" cy="1260.9" r="9.0"/>
<circle cx="860.1" cy="1254.7" r="9.0"/>
<circle cx="870.6" cy="1247.6" r="9.0"/>
<circle cx="881.3" cy="1239.5" r="9.0"/>
<circle cx="891.9" cy="1229.7" r="9.0"/>
<circle cx="901.7" cy="1219.8" r="9.0"/>
<circle cx="912.6" cy="1207.5" r="9.0"/>
<circle cx="924.4" cy="1192.4" r="9.0"/>
<circle cx="935.2" cy="1173.4" r="9.0"/>
<circle cx="946.1" cy="1150.5" r="9.0"/>
<circle cx="956.9" cy="1118.2" r="9.0"/>
<circle cx="968.4" cy="1072.0" r="9.0"/>
<circle cx="978.9" cy="997.0" r="9.0"/>
<circle cx="979.4" cy="992.4" r="9.0"/>
<circle cx="979.9" cy="987.8" r="9.0"/>
<circle cx="980.4" cy="982.9" r="9.0"/>
<circle cx="980.9" cy="977.8" r="9.0"/>
<circle cx="981.4" cy="972.4" r="9.0"/>
<circle cx="981.9" cy="966.6" r="9.0"/>
<circle cx="982.4" cy="960.6" r="9.0"/>
<circle cx="982.9" cy="954.3" r="9.0"/>
<circle cx="983.4" cy="947.8" r="9.0"/>
<circle cx="983.9" cy="940.9" r="9.0"/>
<circle cx="984.4" cy="933.8" r="9.0"/>
<circle cx="984.8" cy="926.3" r="9.0"/>
<circle cx="985.3" cy="918.4" r="9.0"/>
<circle cx="985.8" cy="910.2" r="9.0"/>
<circle cx="986.3" cy="901.6" r="9.0"/>
<circle cx="986.8" cy="892.6" r="9.0"/>
<circle cx="987.3" cy="883.2" r="9.0"/>
<circle cx="987.8" cy="873.5" r="9.0"/>
<circle cx="988.3" cy="863.4" r="9.0"/>
<circle cx="988.8" cy="852.9" r="9.0"/>
<circle cx="989.3" cy="842.2" r="9.0"/>
<circle cx="989.8" cy="831.1" r="9.0"/>
<circle cx="990.3" cy="819.7" r="9.0"/>
<circle cx="990.8" cy="808.0" r="9.0"/>
<circle cx="991.3" cy="796.3" r="9.0"/>
<circle cx="991.8" cy="784.9" r="9.0"/>
<circle cx="992.3" cy="773.8" r="9.0"/>
<circle cx="992.8" cy="763.1" r="9.0"/>
<circle cx="993.3" cy="752.6" r="9.0"/>
<circle cx="993.8" cy="742.5" r="9.0"/>
<circle cx="994.3" cy="732.8" r="9.0"/>
<circle cx="994.8" cy="723.4" r="9.0"/>
<circle cx="995.3" cy="714.4" r="9.0"/>
<circle cx="995.8" cy="705.8" r="9.0"/>
<circle cx="996.3" cy="697.6" r="9.0"/>
<circle cx="996.8" cy="689.7" r="9.0"/>
<circle cx="997.2" cy="682.2" r="9.0"/>
<circle cx="997.7" cy="675.1" r="9.0"/>
<circle cx="998.2" cy="668.2" r="9.0"/>
<circle cx="998.7" cy="661.7" r="9.0"/>
<circle cx="999.2" cy="655.4" r="9.0"/>
<circle cx="999.7" cy="649.4" r="9.0"/>
<circle cx="1000.2" cy="643.6" r="9.0"/>
<circle cx="1000.7" cy="638.2" r="9.0"/>
<circle cx="1001.2" cy="633.1" r="9.0"/>
<circle cx="1001.7" cy="628.2" r="9.0"/>
<circle cx="1002.2" cy="623.6" r="9.0"/>
<circle cx="1002.7" cy="619.0" r="9.0"/>
<circle cx="1013.2" cy="544.0" r="9.0"/>
<circle cx="1024.7" cy="497.8" r="9.0"/>
<circle cx="1035.5" cy="465.5" r="9.0"/>
<circle cx="1046.4" cy="442.6" r="9.0"/>
<circle cx="1057.2" cy="423.6" r="9.0"/>
<circle cx="1069.0" cy="408.5" r="9.0"/>
<circle cx="1079.9" cy="396.2" r="9.0"/>
<circle cx="1089.7" cy="386.3" r="9.0"/>
<circle cx="1100.3" cy="376.5" r="9.0"/>
<circle cx="1111.0" cy="368.4" r="9.0"/>
<circle cx="1121.5" cy="361.3" r="9.0"/>
<circle cx="1132.1" cy="355.1" r="9.0"/>
<circle cx="1142.6" cy="348.1" r="9.0"/>
<circle cx="1153.1" cy="342.3" r="9.0"/>
<circle cx="1163.6" cy="337.0" r="9.0"/>
<circle cx="1174.0" cy="332.2" r="9.0"/>
<circle cx="1184.4" cy="327.8" r="9.0"/>
<circle cx="1194.8" cy="323.6" r="9.0"/>
<circle cx="1205.1" cy="319.7" r="9.0"/>
<circle cx="1215.4" cy="316.2" r="9.0"/>
<circle cx="1225.7" cy="312.8" r="9.0"/>
<circle cx="1235.9" cy="309.6" r="9.0"/>
<circle cx="1246.1" cy="306.4" r="9.0"/>
<circle cx="1256.3" cy="303.2" r="9.0"/>
<circle cx="1266.5" cy="300.0" r="9.0"/>
<circle cx="1276.6" cy="296.9" r="9.0"/>
<circle cx="1286.6" cy="293.9" r="9.0"/>
<circle cx="1296.7" cy="291.1" r="9.0"/>
<circle cx="1306.7" cy="288.4" r="9.0"/>
<circle cx="1316.7" cy="285.9" r="9.0"/>
<circle cx="1326.7" cy="283.6" r="9.0"/>
<circle cx="1336.7" cy="281.3" r="9.0"/>
<circle cx="1346.8" cy="279.1" r="9.0"/>
<circle cx="1356.9" cy="276.9" r="9.0"/>
<circle cx="1367.2" cy="274.7" r="9.0"/>
<circle cx="1377.5" cy="272.6" r="9.0"/>
<circle cx="1387.8" cy="270.5" r="9.0"/>
<circle cx="1398.2" cy="268.4" r="9.0"/>
<circle cx="1408.7" cy="266.5" r="9.0"/>
<circle cx="1419.3" cy="264.5" r="9.0"/>
<circle cx="1429.9" cy="262.7" r="9.0"/>
<circle cx="1440.6" cy="260.9" r="9.0"/>
<circle cx="1451.3" cy="259.2" r="9.0"/>
<circle cx="1462.1" cy="257.5" r="9.0"/>
<circle cx="1473.0" cy="255.9" r="9.0"/>
<circle cx="1484.0" cy="254.2" r="9.0"/>
<circle cx="1494.9" cy="252.5" r="9.0"/>
<circle cx="1505.9" cy="250.8" r="9.0"/>
<circle cx="1516.8" cy="249.2" r="9.0"/>
<circle cx="1527.8" cy="247.6" r="9.0"/>
<circle cx="1538.8" cy="246.0" r="9.0"/>
<circle cx="1549.7" cy="244.4" r="9.0"/>
<circle cx="1560.7" cy="242.8" r="9.0"/>
<circle cx="1571.7" cy="241.3" r="9.0"/>
<circle cx="1582.6" cy="239.7" r="9.0"/>
<circle cx="1593.6" cy="238.2" r="9.0"/>
<circle cx="1604.5" cy="236.8" r="9.0"/>
<circle cx="1615.4" cy="235.4" r="9.0"/>
<circle cx="1626.0" cy="234.2" r="9.0"/>
<circle cx="1636.5" cy="233.0" r="9.0"/>
<circle cx="1646.9" cy="231.9" r="9.0"/>
<circle cx="1657.1" cy="230.8" r="9.0"/>
<circle cx="1667.2" cy="229.8" r="9.0"/>
<circle cx="1677.1" cy="228.7" r="9.0"/>
<circle cx="1686.8" cy="227.6" r="9.0"/>
<circle cx="1696.4" cy="226.5" r="9.0"/>
<circle cx="1705.7" cy="225.4" r="9.0"/>
<circle cx="1714.8" cy="224.3" r="9.0"/>
<circle cx="1723.5" cy="223.2" r="9.0"/>
<circle cx="1732.0" cy="222.1" r="9.0"/>
</g>
<text x="867.8" y="98.0" font-size="67.69" font-weight="normal">30</text>
<text x="867.8" y="339.8" font-size="67.24" font-weight="normal">20</text>
<text x="870.3" y="582.9" font-size="65.59" font-weight="normal">10</text>
<text x="902.0" y="825.6" font-size="67.15" font-weight="normal">0</text>
<text x="834.5" y="1067.5" font-size="64.25" font-weight="normal">−10</text>
<text x="845.3" y="1312.5" font-size="62.53" font-weight="normal">–20</text>
<text x="845.1" y="1552.2" font-size="62.83" font-weight="normal">–30</text>
<text x="42.4" y="881.3" font-size="62.09" font-weight="normal">–20,000</text>
<text x="465.3" y="883.5" font-size="62.59" font-weight="normal">–10,000</text>
<text x="1329.7" y="881.7" font-size="61.93" font-weight="normal">10,000</text>
<text x="1751.5" y="878.2" font-size="62.67" font-weight="normal">20,000</text>
<text x="975.4" y="903.0" font-size="63.65" font-weight="normal">0</text>
<g stroke-linecap="round">
<path d="M1375 1243.5 H1454" stroke="#00b050" stroke-width="6.5"/>
<circle cx="1414.3" cy="1243.5" r="9.0" fill="#00b050" stroke="#00a3a0" stroke-width="1.1"/>
<path d="M1375 1331.1 H1454" stroke="#000" stroke-width="6.5"/>
<circle cx="1413.7" cy="1331.1" r="9.0" fill="#000" stroke="#bdb800" stroke-width="1.1"/>
<path d="M1375 1418 H1454" stroke="#e00000" stroke-width="6.5"/>
<circle cx="1413.7" cy="1418" r="9.0" fill="#e00000" stroke="#ee5050" stroke-width="1.1"/>
</g>
<text x="1486.7" y="1261.4" font-size="57.5">CUR-2GE-Ch-IONPs</text>
<text x="1486.7" y="1355.8" font-size="57.5">Ch-IONPs</text>
<text x="1486.7" y="1446.2" font-size="57.5">IONPs</text>
</svg>
</body></html>
